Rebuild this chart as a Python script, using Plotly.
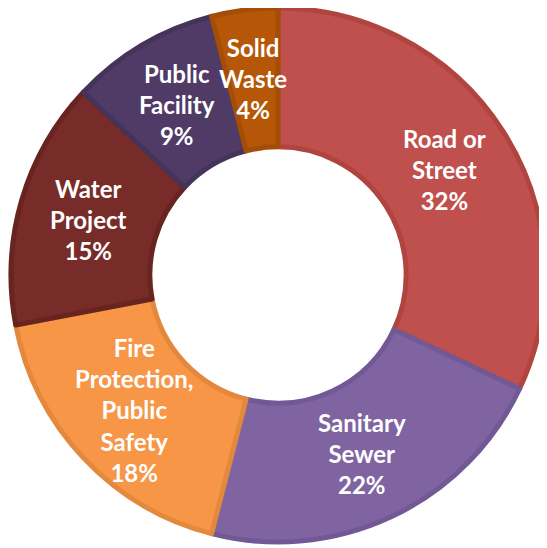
import math
import plotly.graph_objects as go

categories = ["Road or Street", "Sanitary Sewer", "Fire Protection, Public Safety",
              "Water Project", "Public Facility", "Solid Waste"]
label_lines = ["Road or<br>Street", "Sanitary<br>Sewer", "Fire<br>Protection,<br>Public<br>Safety",
               "Water<br>Project", "Public<br>Facility", "Solid<br>Waste"]
values = [32, 22, 18, 15, 9, 4]

fill_colors = ["#C0504D", "#8064A2", "#F79646", "#772C2A", "#4F3B66", "#B65708"]
edge_colors = ["#B0443F", "#735896", "#E3893D", "#68241F", "#453359", "#A34D06"]

W, H = 547, 548
# pie square in figure pixels (left, top, size)
left_px, top_px, size_px = 3, 0, 534
dom_x = [left_px / W, (left_px + size_px) / W]
dom_y = [1 - (top_px + size_px) / H, 1 - top_px / H]
hole = 0.48

fig = go.Figure(go.Pie(
    labels=categories,
    values=values,
    sort=False,
    direction="clockwise",
    rotation=0,
    hole=hole,
    marker=dict(colors=fill_colors, line=dict(color=edge_colors, width=5)),
    textinfo="none",
    hoverinfo="label+percent",
    domain=dict(x=dom_x, y=dom_y),
    showlegend=False,
))

# label placement derived from the data (mid-angle of each slice, mid-ring radius)
R = size_px / 2
cx = left_px + R
cy = top_px + R
r_lab = R * (1 + hole) / 2
total = sum(values)
cum = 0
for lab, v in zip(label_lines, values):
    mid = (cum + v / 2) / total * 2 * math.pi
    cum += v
    px = cx + r_lab * math.sin(mid)
    py = cy - r_lab * math.cos(mid)
    fig.add_annotation(
        x=px / W, y=1 - py / H, xref="paper", yref="paper",
        xanchor="center", yanchor="middle",
        text=f"{lab}<br>{round(v / total * 100)}%",
        showarrow=False, align="center",
        font=dict(family="Lato", size=24, color="white", weight="bold"),
    )

fig.update_layout(
    width=W, height=H,
    margin=dict(l=0, r=0, t=0, b=0),
    paper_bgcolor="white",
    plot_bgcolor="white",
)

fig.write_html("out.html")
